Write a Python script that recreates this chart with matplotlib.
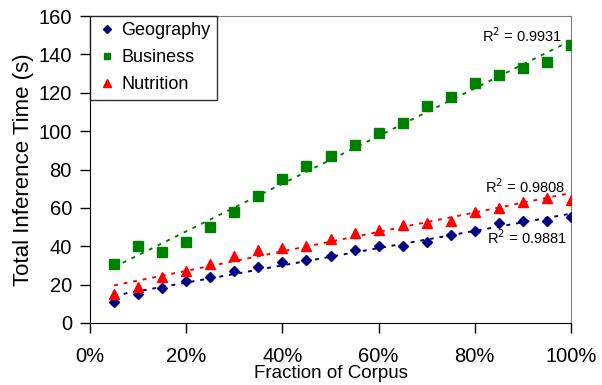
import numpy as np
import matplotlib
matplotlib.use("Agg")
import matplotlib.pyplot as plt

plt.rcParams['font.family'] = ['Liberation Sans', 'DejaVu Sans']

fraction = [0.05, 0.10, 0.15, 0.20, 0.25, 0.30, 0.35, 0.40, 0.45, 0.50,
            0.55, 0.60, 0.65, 0.70, 0.75, 0.80, 0.85, 0.90, 0.95, 1.00]
geography = [11, 15, 18, 22, 24, 27, 29, 32, 33, 35,
             38, 40, 40, 42, 46, 48, 52, 53, 53, 55]
business = [31, 40, 37, 42, 50, 58, 66, 75, 82, 87,
            93, 99, 104, 113, 118, 125, 129, 133, 136, 145]
nutrition = [15, 19, 24, 27, 31, 35, 38, 39, 40, 44,
             47, 48.5, 51, 52, 53, 58, 60, 63, 65, 64]
r2_labels = {"Geography": "R$^2$ = 0.9881", "Business": "R$^2$ = 0.9931",
             "Nutrition": "R$^2$ = 0.9808"}
x_ticks = [0, 0.2, 0.4, 0.6, 0.8, 1.0]
x_ticklabels = ["0%", "20%", "40%", "60%", "80%", "100%"]
y_ticks = [0, 20, 40, 60, 80, 100, 120, 140, 160]

fig = plt.figure(figsize=(6.02, 3.85), dpi=100)
ax = fig.add_axes([90/602, 62/385, 481/602, 307/385])

x = np.array(fraction)
series = [("Geography", geography, "#000080", "D", 5),
          ("Business", business, "#008000", "s", 6.5),
          ("Nutrition", nutrition, "#FF0000", "^", 7)]

for name, vals, col, mk, ms in series:
    ax.plot(x, vals, linestyle="none", marker=mk, color=col, markersize=ms,
            label=name, zorder=3)
    p = np.polyfit(x, np.array(vals, dtype=float), 1)
    xx = np.array([x[0], x[-1]])
    ax.plot(xx, np.polyval(p, xx), linestyle=(0, (2, 3)), color=col,
            linewidth=1.4, zorder=2)

ax.text(0.983, 146.4, r2_labels["Business"], ha="right", va="baseline", fontsize=10.5)
ax.text(0.988, 67.7, r2_labels["Nutrition"], ha="right", va="baseline", fontsize=10.5)
ax.text(0.992, 41.2, r2_labels["Geography"], ha="right", va="baseline", fontsize=10.5)

ax.set_xlim(0, 1.0)
ax.set_ylim(0, 160)
ax.set_xticks(x_ticks)
ax.set_xticklabels(x_ticklabels)
ax.set_yticks(y_ticks)
ax.tick_params(axis="both", labelsize=14.5, direction="out", length=7, width=1,
               colors="black")
ax.tick_params(axis="x", pad=10)
ax.tick_params(axis="y", pad=6)
ax.spines["top"].set_color("#808080")
ax.spines["right"].set_color("#808080")
for s in ["left", "bottom"]:
    ax.spines[s].set_color("black")
ax.set_xlabel("Fraction of Corpus", fontsize=13.5)
ax.xaxis.set_label_coords(0.5, -0.138)
ax.xaxis.label.set_va("top")
ax.set_ylabel("Total Inference Time (s)", fontsize=16)
ax.yaxis.set_label_coords(-0.117, 0.50)
ax.yaxis.label.set_va("bottom")

leg = ax.legend(loc="upper left", fontsize=13, frameon=True, fancybox=False,
                borderaxespad=0, handletextpad=0.2, handlelength=1.2,
                borderpad=0.35, labelspacing=0.55, markerscale=0.75)
leg.get_frame().set_edgecolor("black")
leg.get_frame().set_linewidth(1.0)

fig.savefig("out.png", dpi=100)
